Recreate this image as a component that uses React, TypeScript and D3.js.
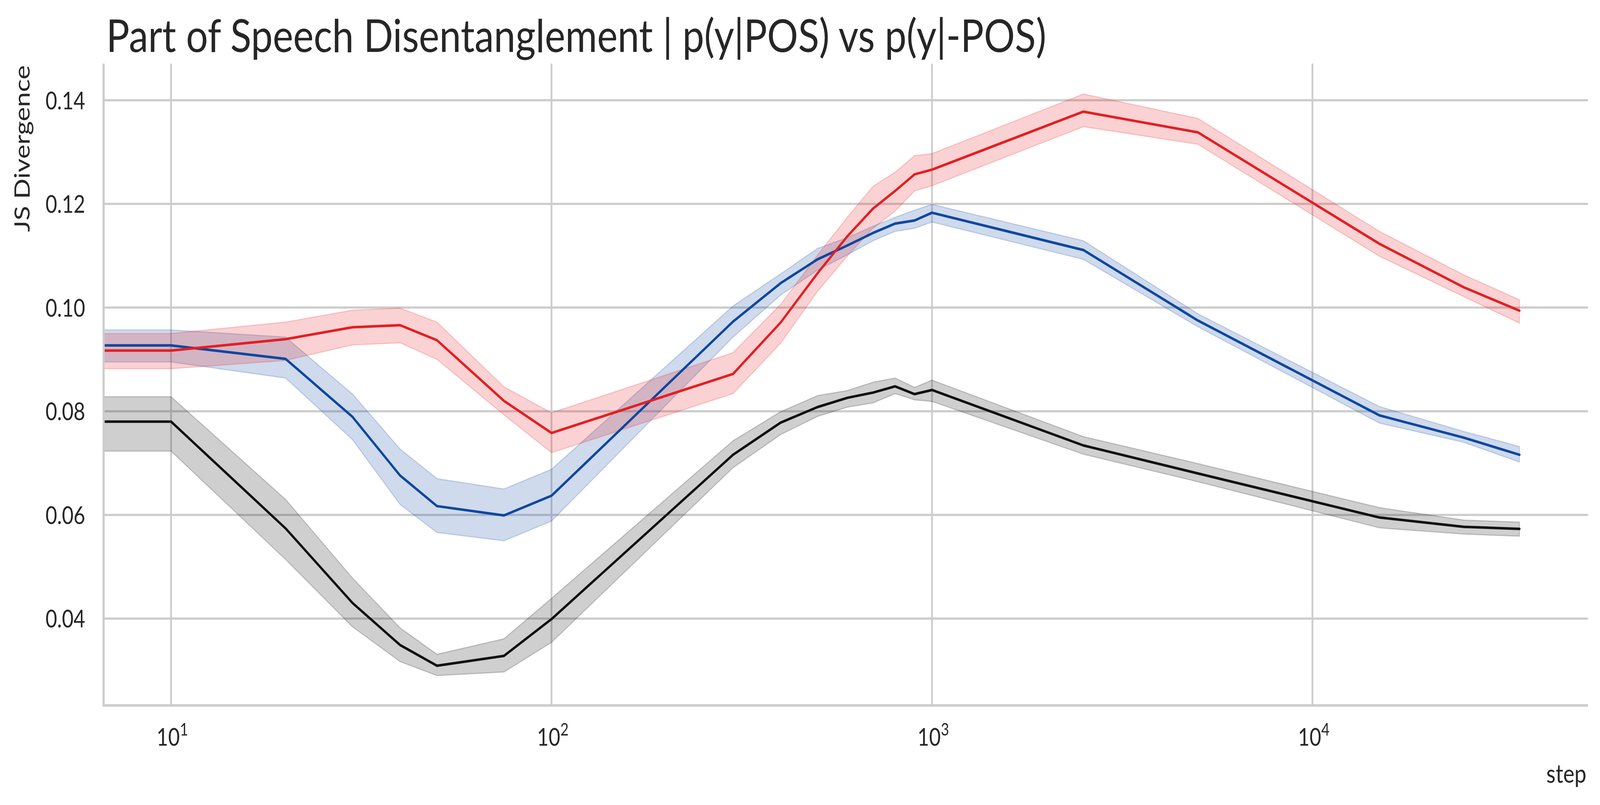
import { useRef, useEffect } from "react";
import * as d3 from "d3";

// training steps (the first one sits left of the visible range, line runs flat off the edge)
const steps = [1, 10, 20, 30, 40, 50, 75, 100, 300, 400, 500, 600, 700, 800, 900, 1000, 2500, 5000, 15000, 25000, 35000];

const blackMean = [0.078, 0.078, 0.0574, 0.043, 0.0349, 0.0309, 0.0328, 0.0399, 0.0716, 0.0778, 0.0808, 0.0826, 0.0836, 0.0848, 0.0833, 0.0841, 0.0734, 0.068, 0.0595, 0.0577, 0.0573];
const blackLow = [0.0723, 0.0723, 0.0514, 0.0384, 0.0317, 0.029, 0.0297, 0.0354, 0.0691, 0.0755, 0.079, 0.0808, 0.0816, 0.0834, 0.0822, 0.0819, 0.0717, 0.0664, 0.0575, 0.0563, 0.0559];
const blackHigh = [0.0828, 0.0828, 0.063, 0.0478, 0.0382, 0.0331, 0.0361, 0.0439, 0.0743, 0.0799, 0.083, 0.084, 0.0856, 0.0864, 0.0846, 0.086, 0.0751, 0.0699, 0.0614, 0.059, 0.0586];

const blueMean = [0.0927, 0.0927, 0.0901, 0.0789, 0.0676, 0.0617, 0.0599, 0.0637, 0.0973, 0.1047, 0.1093, 0.112, 0.1144, 0.1162, 0.1168, 0.1183, 0.1111, 0.0975, 0.0792, 0.0749, 0.0716];
const blueLow = [0.0895, 0.0895, 0.0864, 0.0745, 0.062, 0.0566, 0.055, 0.0588, 0.0943, 0.1024, 0.1072, 0.1102, 0.1129, 0.1147, 0.1153, 0.1165, 0.1093, 0.0963, 0.0777, 0.074, 0.0702];
const blueHigh = [0.0957, 0.0957, 0.0943, 0.0833, 0.0727, 0.067, 0.065, 0.0688, 0.1003, 0.1065, 0.1114, 0.1135, 0.1157, 0.1174, 0.1188, 0.1199, 0.1129, 0.0988, 0.0809, 0.0761, 0.0732];

const redMean = [0.0917, 0.0917, 0.0939, 0.0962, 0.0966, 0.0937, 0.082, 0.0758, 0.0872, 0.0971, 0.1066, 0.1138, 0.1191, 0.1225, 0.1257, 0.1266, 0.1378, 0.1338, 0.1123, 0.1039, 0.0994];
const redLow = [0.0882, 0.0882, 0.0898, 0.0928, 0.0932, 0.09, 0.0793, 0.072, 0.0834, 0.0931, 0.1031, 0.11, 0.1153, 0.1186, 0.1225, 0.1235, 0.1349, 0.1315, 0.1099, 0.1021, 0.097];
const redHigh = [0.095, 0.095, 0.0972, 0.0995, 0.0999, 0.0972, 0.0847, 0.0797, 0.0913, 0.1006, 0.1101, 0.1175, 0.1234, 0.1261, 0.1293, 0.1297, 0.1412, 0.1365, 0.1147, 0.1063, 0.1015];

const yTicks = [0.04, 0.06, 0.08, 0.1, 0.12, 0.14];
const xTicks = [10, 100, 1000, 10000];

const title = "Part of Speech Disentanglement | p(y|POS) vs p(y|-POS)";

const series = [
  { mean: blackMean, low: blackLow, high: blackHigh, color: "#111111" },
  { mean: blueMean, low: blueLow, high: blueHigh, color: "#0d47a1" },
  { mean: redMean, low: redLow, high: redHigh, color: "#e41e22" },
];

const W = 4941;
const H = 2062;
const FONT = "Lato, 'DejaVu Sans', sans-serif";
const TEXT = "#262626";

export default function App() {
  const ref = useRef(null);

  useEffect(() => {
    const svg = d3.select(ref.current);
    svg.selectAll("*").remove();

    const left = 320, right = 4904, top = 163, bottom = 1807;

    const x = d3.scaleLog().domain([6.65, 53000]).range([left, right]);
    const y = d3.scaleLinear().domain([0.02324, 0.14706]).range([bottom, top]);

    svg.append("rect").attr("width", W).attr("height", H).attr("fill", "#fff");

    svg
      .append("clipPath")
      .attr("id", "plot")
      .append("rect")
      .attr("x", left)
      .attr("y", top)
      .attr("width", right - left)
      .attr("height", bottom - top);

    // grid
    const grid = svg.append("g").attr("stroke", "#cccccc").attr("stroke-width", 5.5);
    grid
      .selectAll("line.h")
      .data(yTicks)
      .join("line")
      .attr("x1", left)
      .attr("x2", right)
      .attr("y1", (d) => y(d))
      .attr("y2", (d) => y(d));
    grid
      .selectAll("line.v")
      .data(xTicks)
      .join("line")
      .attr("x1", (d) => x(d))
      .attr("x2", (d) => x(d))
      .attr("y1", top)
      .attr("y2", bottom);

    // bands + lines
    const plot = svg.append("g").attr("clip-path", "url(#plot)");
    const idx = steps.map((_, i) => i);

    series.forEach((s) => {
      const area = d3
        .area()
        .x((i) => x(steps[i]))
        .y0((i) => y(s.low[i]))
        .y1((i) => y(s.high[i]));
      plot
        .append("path")
        .datum(idx)
        .attr("d", area)
        .attr("fill", s.color)
        .attr("fill-opacity", 0.2)
        .attr("stroke", s.color)
        .attr("stroke-opacity", 0.2)
        .attr("stroke-width", 3);
    });

    series.forEach((s) => {
      const line = d3
        .line()
        .x((i) => x(steps[i]))
        .y((i) => y(s.mean[i]));
      plot
        .append("path")
        .datum(idx)
        .attr("d", line)
        .attr("fill", "none")
        .attr("stroke", s.color)
        .attr("stroke-width", 6.5)
        .attr("stroke-linejoin", "round")
        .attr("stroke-linecap", "round");
    });

    // spines
    const spines = svg.append("g").attr("stroke", "#cccccc").attr("stroke-width", 6.5);
    spines.append("line").attr("x1", left).attr("x2", left).attr("y1", top).attr("y2", bottom + 3);
    spines.append("line").attr("x1", left - 3).attr("x2", right).attr("y1", bottom).attr("y2", bottom);

    // y tick labels
    svg
      .append("g")
      .selectAll("text")
      .data(yTicks)
      .join("text")
      .attr("x", 263)
      .attr("y", (d) => y(d) + 23)
      .attr("text-anchor", "end")
      .attr("font-family", FONT)
      .attr("font-size", 62)
      .attr("fill", TEXT)
      .text((d) => d.toFixed(2));

    // x tick labels as 10^n
    const xl = svg
      .append("g")
      .selectAll("text")
      .data(xTicks)
      .join("text")
      .attr("x", (d) => x(d) + 4)
      .attr("y", 1910)
      .attr("text-anchor", "middle")
      .attr("font-family", FONT)
      .attr("font-size", 62)
      .attr("fill", TEXT);
    xl.append("tspan").text("10");
    xl.append("tspan")
      .attr("dy", -26)
      .attr("font-size", 44)
      .text((d) => String(Math.round(Math.log10(d))));

    // axis labels
    svg
      .append("text")
      .attr("transform", `translate(92,${top + 4}) rotate(-90)`)
      .attr("text-anchor", "end")
      .attr("font-family", FONT)
      .attr("font-size", 66)
      .attr("fill", TEXT)
      .attr("textLength", 427)
      .attr("lengthAdjust", "spacingAndGlyphs")
      .text("JS Divergence");

    svg
      .append("text")
      .attr("x", 4899)
      .attr("y", 2005)
      .attr("text-anchor", "end")
      .attr("font-family", FONT)
      .attr("font-size", 66)
      .attr("fill", TEXT)
      .text("step");

    // title
    svg
      .append("text")
      .attr("x", 328)
      .attr("y", 133)
      .attr("font-family", FONT)
      .attr("font-size", 116)
      .attr("fill", TEXT)
      .attr("textLength", 2903)
      .attr("lengthAdjust", "spacingAndGlyphs")
      .text(title);
  }, []);

  return (
    <svg
      ref={ref}
      viewBox={`0 0 ${W} ${H}`}
      preserveAspectRatio="none"
      style={{ position: "fixed", left: 0, top: 0, width: "100vw", height: "100vh", display: "block" }}
    />
  );
}
